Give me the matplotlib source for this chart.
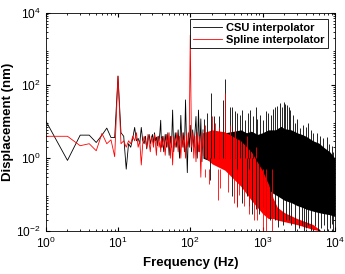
import matplotlib
matplotlib.use("Agg")
import matplotlib.pyplot as plt

plt.rcParams['font.family'] = ['Liberation Sans', 'DejaVu Sans']

# ---- data ----
# low frequency part, one point per Hz (1..40)
low_freq = list(range(1, 41))
csu_low = [10.7, 0.87, 4.3, 4.3, 2.7, 4.3, 6.7, 3.7, 3.7, 180,
           5, 4, 0.5, 2.5, 2, 3.5, 7, 3, 3.5, 2.5,
           7, 3, 2.5, 4, 1.8, 3.5, 4.5, 2.5, 3.5, 4.5,
           2.5, 5, 3, 3.8, 2.2, 4, 3, 5, 11, 2]
spline_low = [4, 4, 2.2, 2.5, 1.6, 4.8, 2.5, 3.2, 1.1, 180,
              2.5, 3, 2, 3, 2.5, 4, 3, 5, 2, 3,
              0.65, 2.5, 4, 3, 2, 4.5, 2.5, 1.5, 4, 3,
              2, 4.5, 2.5, 1.2, 3.5, 4, 2, 3, 1.5, 3.5]

# mid part (40..150 Hz)
mid_freq = [41, 43, 45, 47, 49, 51, 53, 55, 57, 59, 62, 65, 68, 71, 74, 77, 80, 83,
            86, 89, 91, 94, 97, 100, 104, 108, 112, 116, 120, 125, 130, 135, 140, 145, 150]
csu_mid = [4, 1.5, 4.5, 2, 5, 1.2, 4, 2, 21, 1.5, 5, 2, 6, 1, 15, 2, 5, 1.5,
           40, 2, 0.4, 5, 2, 8, 1.5, 6, 2, 5, 14, 1, 21, 1.5, 12, 0.8, 6]
spline_mid = [2, 4, 1.2, 4.5, 2, 5, 1, 4, 0.65, 4, 2, 5, 1.5, 4, 1, 5, 2, 4,
              1, 5, 2, 3, 6, 2400, 2, 5, 1, 4, 0.8, 5, 1.5, 4, 0.3, 5, 2]

# dense noise band (150 Hz .. 10 kHz)
csu_band_freq = [150, 200, 300, 400, 500, 600, 700, 850, 1000, 1200, 1500, 1800, 2000,
                 2500, 3000, 3500, 4000, 5000, 6000, 7000, 8500, 10000]
csu_band_top = [5, 5, 5, 5.5, 6, 5, 5.5, 4.5, 5, 6, 6, 7.5, 6.5,
                6, 5, 4.5, 4, 3, 2.6, 2, 1.5, 1]
csu_band_bot = [1, 0.8, 0.6, 0.45, 0.3, 0.25, 0.22, 0.2, 0.17, 0.13, 0.1, 0.08, 0.07,
                0.06, 0.05, 0.045, 0.04, 0.035, 0.032, 0.03, 0.028, 0.025]

spline_band_freq = [150, 200, 300, 500, 700, 1000, 1200, 1400, 1600, 2000, 3000, 5000, 6500]
spline_band_top = [5, 6, 5.3, 3, 1.5, 0.45, 0.2, 0.08, 0.045, 0.032, 0.022, 0.015, 0.01]
spline_band_bot = [1.2, 0.7, 0.47, 0.17, 0.07, 0.03, 0.022, 0.022, 0.02, 0.018, 0.015, 0.011, 0.01]

# isolated peaks and dips inside the band
csu_peak_freq = [155, 172, 193, 215, 250, 282, 307, 350, 380, 420, 445, 480, 525, 580,
                 620, 680, 730, 800, 850, 920, 1000, 1100, 1200, 1300, 1400, 1500, 1600,
                 1750, 1850, 1950, 2050, 2170, 2300, 2400, 2600, 2800, 3000, 3300, 3600,
                 4000, 4300, 4700, 5000, 5600, 6200, 6800, 7700, 8300, 9000, 9500]
csu_peak_val = [12, 17, 60, 14, 14, 40, 147, 25, 26, 20, 17, 15, 21, 11,
                18, 21, 14, 26, 12, 15, 11, 20, 17, 15, 22, 26, 28,
                32, 25, 35, 30, 29, 25, 21, 15, 9, 12, 6.6, 8,
                7, 9, 6, 5, 4.8, 4, 3.5, 3.9, 2.5, 2.1, 1.5]
csu_dip_freq = [190, 380, 450, 520, 600, 650, 716, 800, 900, 1000, 1100, 1250, 1350,
                1500, 1650, 1900, 2100, 2300, 2500, 2800, 3200, 3500, 3700, 4000, 4300,
                4700, 5300, 5900, 6500, 7000, 7700, 8500, 9000, 9500]
csu_dip_val = [0.25, 0.09, 0.05, 0.06, 0.09, 0.05, 0.03, 0.04, 0.03, 0.047, 0.03, 0.02, 0.025,
               0.02, 0.013, 0.015, 0.02, 0.02, 0.015, 0.01, 0.012, 0.015, 0.01, 0.012, 0.015,
               0.01, 0.014, 0.01, 0.012, 0.015, 0.01, 0.012, 0.016, 0.01]

spline_peak_freq = [160, 200, 220, 250, 300, 350, 420, 600, 800]
spline_peak_val = [8, 14, 9, 7, 63, 8, 6, 4, 2]
spline_dip_freq = [160, 180, 240, 260, 330, 400, 445, 470, 550, 650, 750, 850, 1000, 1100, 1350]
spline_dip_val = [0.3, 0.2, 0.07, 0.15, 0.12, 0.06, 0.047, 0.1, 0.05, 0.03, 0.02, 0.02,
                  0.01, 0.01, 0.01]

fig = plt.figure(figsize=(3.45, 2.74), dpi=100)
ax = fig.add_axes([0.1325, 0.157, 0.838, 0.797])

lw = 0.6
# CSU interpolator (black)
ax.plot(low_freq + mid_freq, csu_low + csu_mid, color='black', lw=lw, label='CSU interpolator')
ax.fill_between(csu_band_freq, csu_band_bot, csu_band_top, color='black', lw=0)
ax.vlines(csu_peak_freq, 1, csu_peak_val, color='black', lw=lw)
ax.vlines(csu_dip_freq, 1, csu_dip_val, color='black', lw=lw)

# Spline interpolator (red)
ax.plot(low_freq + mid_freq, spline_low + spline_mid, color='red', lw=lw, label='Spline interpolator')
ax.fill_between(spline_band_freq, spline_band_bot, spline_band_top, color='red', lw=0)
ax.vlines(spline_peak_freq, 1, spline_peak_val, color='red', lw=lw)
ax.vlines(spline_dip_freq, 0.5, spline_dip_val, color='red', lw=lw)

ax.set_xscale('log')
ax.set_yscale('log')
ax.set_xlim(1, 1e4)
ax.set_ylim(1e-2, 1e4)
ax.set_xticks([1, 10, 100, 1000, 10000])
ax.set_yticks([1e-2, 1, 1e2, 1e4])
ax.tick_params(which='both', direction='in', top=True, right=True, labelsize=8.6)
ax.tick_params(which='major', length=3)
ax.tick_params(which='minor', length=1.5)
for s in ax.spines.values():
    s.set_linewidth(0.6)

ax.set_xlabel('Frequency (Hz)', fontsize=9.5, fontweight='bold')
ax.set_ylabel('Displacement (nm)', fontsize=9.5, fontweight='bold')
ax.yaxis.set_label_coords(-0.108, 0.5)

leg = ax.legend(loc='upper right', prop={'weight': 'bold', 'size': 8},
                fancybox=False, edgecolor='black', framealpha=1,
                handlelength=2.6, borderpad=0.3, labelspacing=0.2,
                handletextpad=0.4, borderaxespad=0.6)
leg.get_frame().set_linewidth(0.6)

fig.savefig('out.png', dpi=100)
